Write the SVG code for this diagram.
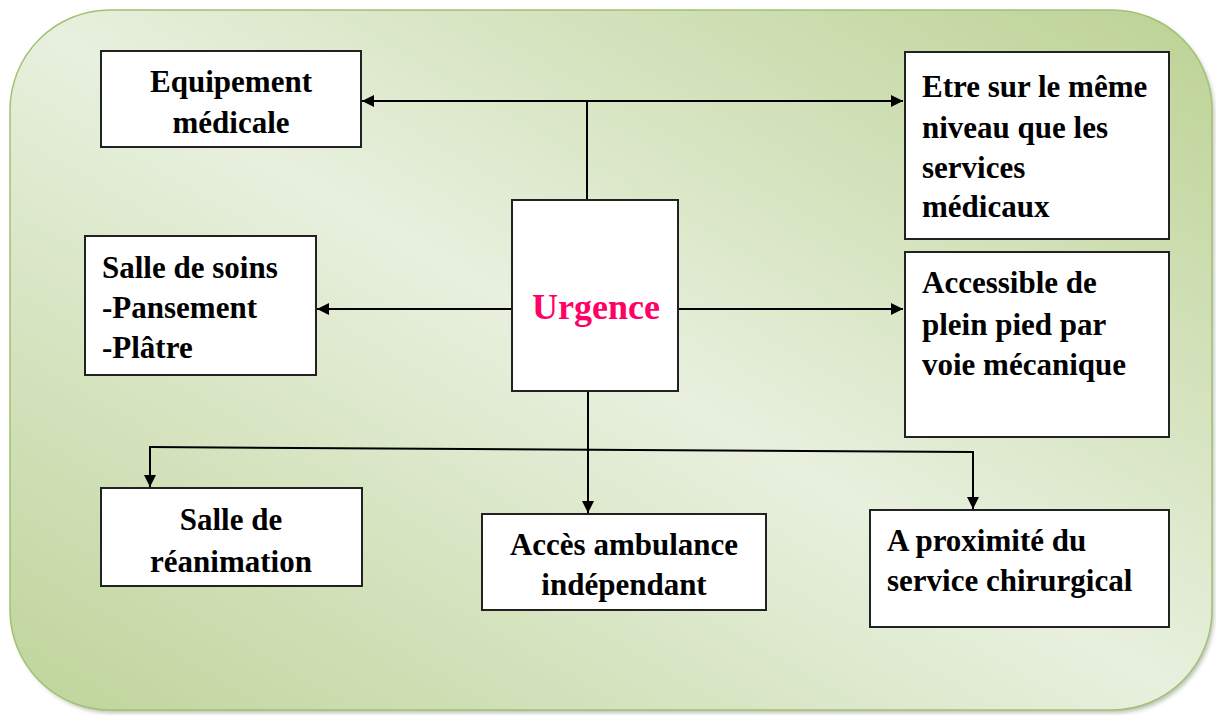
<svg xmlns="http://www.w3.org/2000/svg" width="1216" height="715" viewBox="0 0 1216 715">
  <defs>
    <linearGradient id="bg" x1="1" y1="0" x2="0" y2="1">
      <stop offset="0" stop-color="#bcd294"/>
      <stop offset="0.5" stop-color="#e8f0de"/>
      <stop offset="1" stop-color="#bfd49a"/>
    </linearGradient>
    <filter id="soft" x="-5%" y="-5%" width="110%" height="110%">
      <feGaussianBlur stdDeviation="2"/>
    </filter>
    <marker id="arrow" viewBox="0 0 10 10" refX="10" refY="5" markerWidth="12" markerHeight="12" markerUnits="userSpaceOnUse" orient="auto">
      <path d="M0,0 L10,5 L0,10 Z" fill="#000"/>
    </marker>
    <style>
      .box { fill: #fff; stroke: #222; stroke-width: 2; }
      .lbl { font-family: "Liberation Serif", "Times New Roman", serif; font-weight: bold; font-size: 31px; fill: #000; }
      .mid { text-anchor: middle; }
      .wire { fill: none; stroke: #000; stroke-width: 2; }
      .head { marker-end: url(#arrow); }
    </style>
  </defs>

  <!-- backdrop panel -->
  <rect x="13" y="13" width="1201" height="700" rx="100" ry="100" fill="#8c9680" opacity="0.6" filter="url(#soft)"/>
  <rect x="10" y="10" width="1202" height="700" rx="100" ry="100" fill="url(#bg)" stroke="#a3c075" stroke-width="1.5"/>

  <!-- connectors -->
  <g id="connectors">
    <line class="wire" x1="587" y1="200" x2="587" y2="101"/>
    <line class="wire head" x1="587" y1="101" x2="362" y2="101"/>
    <line class="wire head" x1="587" y1="101" x2="903" y2="101"/>
    <line class="wire head" x1="512" y1="309" x2="317" y2="309"/>
    <line class="wire head" x1="669" y1="309" x2="903" y2="309"/>
    <line class="wire head" x1="588" y1="391" x2="588" y2="513"/>
    <line class="wire" x1="150" y1="447" x2="973" y2="452"/>
    <polyline class="wire head" points="150,446 150,487"/>
    <polyline class="wire head" points="973,451 973,509"/>
  </g>

  <g id="equipement">
    <rect class="box" x="101" y="51" width="260" height="96"/>
    <text class="lbl mid" x="231" y="92">Equipement</text>
    <text class="lbl mid" x="231" y="133">médicale</text>
  </g>

  <g id="niveau">
    <rect class="box" x="905" y="52" width="264" height="187"/>
    <text class="lbl" x="922" y="97">Etre sur le même</text>
    <text class="lbl" x="922" y="138">niveau que les</text>
    <text class="lbl" x="922" y="178">services</text>
    <text class="lbl" x="922" y="217">médicaux</text>
  </g>

  <g id="soins">
    <rect class="box" x="85" y="236" width="231" height="139"/>
    <text class="lbl" x="102" y="278">Salle de soins</text>
    <text class="lbl" x="102" y="318">-Pansement</text>
    <text class="lbl" x="102" y="358">-Plâtre</text>
  </g>

  <g id="urgence">
    <rect class="box" x="512" y="200" width="166" height="191"/>
    <text class="lbl" x="532" y="319" style="fill:#ff0066;font-size:36px">Urgence</text>
  </g>

  <g id="accessible">
    <rect class="box" x="905" y="252" width="264" height="185"/>
    <text class="lbl" x="922" y="293">Accessible de</text>
    <text class="lbl" x="922" y="335">plein pied par</text>
    <text class="lbl" x="922" y="375">voie mécanique</text>
  </g>

  <g id="reanimation">
    <rect class="box" x="101" y="488" width="261" height="98"/>
    <text class="lbl mid" x="231" y="530">Salle de</text>
    <text class="lbl mid" x="231" y="572">réanimation</text>
  </g>

  <g id="ambulance">
    <rect class="box" x="482" y="514" width="284" height="96"/>
    <text class="lbl mid" x="624" y="555">Accès ambulance</text>
    <text class="lbl mid" x="624" y="595">indépendant</text>
  </g>

  <g id="chirurgical">
    <rect class="box" x="870" y="510" width="299" height="117"/>
    <text class="lbl" x="887" y="551">A proximité du</text>
    <text class="lbl" x="887" y="591">service chirurgical</text>
  </g>
</svg>
